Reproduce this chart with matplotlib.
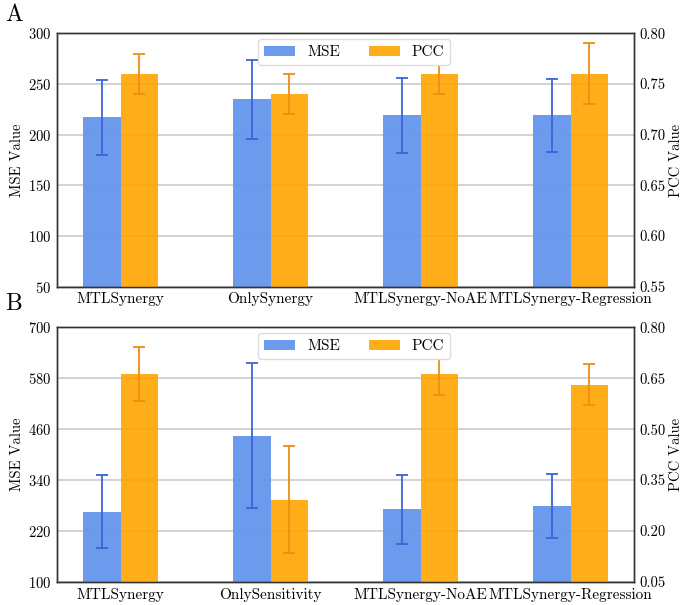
import numpy as np
import matplotlib
matplotlib.use("Agg")
import matplotlib.pyplot as plt

plt.rcParams['font.family'] = 'serif'
plt.rcParams['font.serif'] = ['cmr10', 'DejaVu Serif']
plt.rcParams['axes.formatter.use_mathtext'] = True

# Panel A data
models_a = ['MTLSynergy', 'OnlySynergy', 'MTLSynergy-NoAE', 'MTLSynergy-Regression']
mse_a = [217, 235, 219, 219]
mse_err_a = [37, 39, 37, 36]
pcc_a = [0.76, 0.74, 0.76, 0.76]
pcc_err_a = [0.02, 0.02, 0.02, 0.03]

# Panel B data
models_b = ['MTLSynergy', 'OnlySensitivity', 'MTLSynergy-NoAE', 'MTLSynergy-Regression']
mse_b = [266, 445, 271, 279]
mse_err_b = [87, 170, 82, 75]
pcc_b = [0.662, 0.292, 0.662, 0.631]
pcc_err_b = [0.079, 0.158, 0.060, 0.061]

mse_ticks_a = [50, 100, 150, 200, 250, 300]
pcc_ticks_a = [0.55, 0.60, 0.65, 0.70, 0.75, 0.80]
mse_ticks_b = [100, 220, 340, 460, 580, 700]
pcc_ticks_b = [0.05, 0.20, 0.35, 0.50, 0.65, 0.80]

BLUE = '#6495ED'
ORANGE = '#FFA500'


def draw_panel(ax, models, mse, mse_err, pcc, pcc_err, mse_ticks, pcc_ticks):
    x = np.arange(len(models))
    w = 0.25
    ax.set_axisbelow(True)
    ax.grid(axis='y', color='#c8c8c8', linewidth=1.1)
    b1 = ax.bar(x - w / 2, mse, w, color=BLUE, alpha=0.95, label='MSE',
                yerr=mse_err, capsize=4,
                error_kw=dict(ecolor='#3d63d8', elinewidth=1.3, capthick=1.3))
    ax.set_ylim(mse_ticks[0], mse_ticks[-1])
    ax.set_yticks(mse_ticks)
    ax.set_ylabel('MSE Value', fontsize=10.5, labelpad=3)
    ax.set_xticks(x)
    ax.set_xticklabels(models, fontsize=11)

    ax2 = ax.twinx()
    b2 = ax2.bar(x + w / 2, pcc, w, color=ORANGE, alpha=0.9, label='PCC',
                 yerr=pcc_err, capsize=4,
                 error_kw=dict(ecolor='#f08c10', elinewidth=1.3, capthick=1.3))
    ax2.set_ylim(pcc_ticks[0], pcc_ticks[-1])
    ax2.set_yticks(pcc_ticks)
    ax2.set_yticklabels(['%.2f' % t for t in pcc_ticks])
    ax2.set_ylabel('PCC Value', fontsize=10.5, labelpad=2)
    ax.set_xlim(-0.425, len(models) - 1 + 0.425)

    for a in (ax, ax2):
        a.tick_params(axis='y', length=0, labelsize=10.5, pad=4)
        a.tick_params(axis='x', length=0, labelsize=11, pad=4)
        for s in a.spines.values():
            s.set_color('#333333')
            s.set_linewidth(1.0)

    ax2.legend([b1, b2], ['MSE', 'PCC'], loc='upper center',
               bbox_to_anchor=(0.515, 1.0), ncol=2,
               fontsize=11, frameon=True, fancybox=True, framealpha=1,
               edgecolor='#dddddd', borderaxespad=0.4, columnspacing=1.9,
               handlelength=2.0)
    return ax2


fig = plt.figure(figsize=(6.85, 6.05), dpi=100)
ax_a = fig.add_axes([0.083, 0.526, 0.843, 0.419])
ax_b = fig.add_axes([0.083, 0.038, 0.843, 0.421])

draw_panel(ax_a, models_a, mse_a, mse_err_a, pcc_a, pcc_err_a, mse_ticks_a, pcc_ticks_a)
draw_panel(ax_b, models_b, mse_b, mse_err_b, pcc_b, pcc_err_b, mse_ticks_b, pcc_ticks_b)

fig.text(0.007, 0.975, 'A', fontsize=17, va='center', ha='left')
fig.text(0.007, 0.497, 'B', fontsize=17, va='center', ha='left')

fig.savefig('out.png', dpi=100)
